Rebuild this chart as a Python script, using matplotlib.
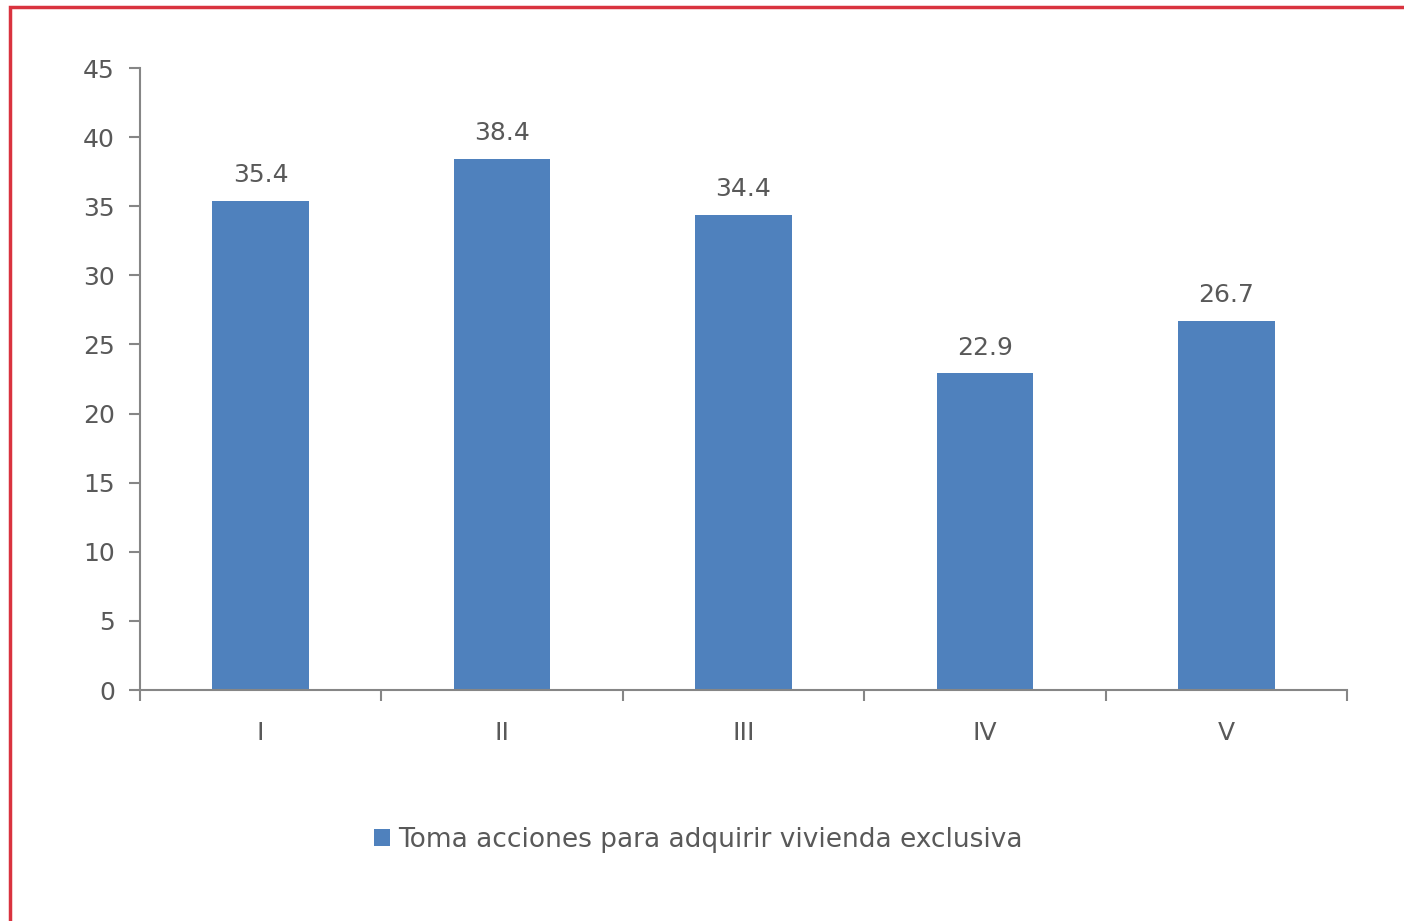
import matplotlib.pyplot as plt
from matplotlib.patches import Rectangle

categories = ["I", "II", "III", "IV", "V"]
values = [35.4, 38.4, 34.4, 22.9, 26.7]
series_name = "Toma acciones para adquirir vivienda exclusiva"

plt.rcParams['font.family'] = ['DejaVu Sans']
text_color = "#595959"
axis_color = "#868686"
bar_color = "#4F81BD"

fig = plt.figure(figsize=(14.04, 9.21), dpi=100)
W, H = 1404, 921

# red frame (cut at right and bottom)
fig.patches.append(Rectangle((10 / W, -0.2), 1.2, 1.2 - 7 / H, transform=fig.transFigure,
                             fill=False, edgecolor="#D9333F", linewidth=2.5))

ax = fig.add_axes([140 / W, 1 - 690 / H, 1207 / W, 622 / H])
x = list(range(len(categories)))
bars = ax.bar(x, values, width=0.4, color=bar_color, label=series_name)
for b, v in zip(bars, values):
    ax.text(b.get_x() + b.get_width() / 2, v + 1.0, f"{v:.1f}", ha="center", va="bottom",
            fontsize=18, color=text_color)

ax.set_xlim(-0.5, len(categories) - 0.5)
ax.set_ylim(0, 45)
ax.set_yticks(range(0, 46, 5))
ax.set_xticks(x)
ax.set_xticklabels(categories)
ax.set_xticks([i - 0.5 for i in range(len(categories) + 1)], minor=True)
ax.tick_params(axis="x", which="major", length=0, pad=22, labelsize=18, labelcolor=text_color)
ax.tick_params(axis="x", which="minor", length=8, width=1.5, color=axis_color, direction="out")
ax.tick_params(axis="y", length=8, width=1.5, color=axis_color, pad=10, labelsize=18,
               labelcolor=text_color)
for s in ["top", "right"]:
    ax.spines[s].set_visible(False)
for s in ["left", "bottom"]:
    ax.spines[s].set_color(axis_color)
    ax.spines[s].set_linewidth(1.5)

fig.legend(handles=[bars], labels=[series_name], loc="center", bbox_to_anchor=(698 / W, 1 - 840 / H),
           frameon=False, fontsize=19, labelcolor=text_color, handlelength=0.6, handleheight=0.6,
           handletextpad=0.3)

fig.savefig("out.png", dpi=100)
